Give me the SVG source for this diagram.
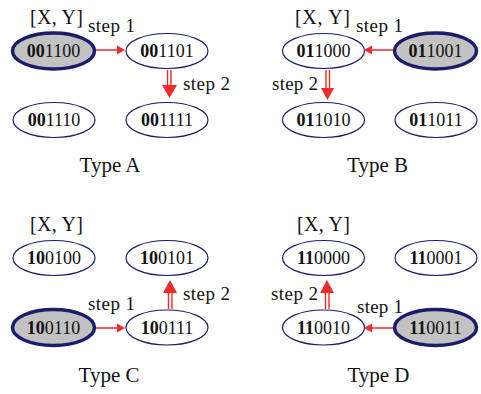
<svg xmlns="http://www.w3.org/2000/svg" width="481" height="394" viewBox="0 0 481 394">
  <style>
    .node { fill: #ffffff; stroke: #1c1c6b; stroke-width: 1.2; }
    .start { fill: #c2c2c2; stroke: #1c1c6b; stroke-width: 3.5; }
    .lbl { font-family: "Liberation Serif", "Times New Roman", serif; font-size: 18px; fill: #111; text-anchor: middle; }
    .lbl tspan.b { font-weight: bold; }
    .cap { font-family: "Liberation Serif", "Times New Roman", serif; font-size: 20px; fill: #111; }
    .step { font-family: "Liberation Serif", "Times New Roman", serif; font-size: 19px; fill: #111; }
    .type { font-family: "Liberation Serif", "Times New Roman", serif; font-size: 21px; fill: #111; text-anchor: middle; }
    .thin { stroke: #ee2a2a; stroke-width: 1.5; fill: none; }
    .dbl { stroke: #ee2a2a; stroke-width: 1.4; fill: none; }
    .head { fill: #ee2a2a; }
  </style>

  <!-- Type A -->
  <g id="a-001100"><ellipse class="start" cx="53.5" cy="51" rx="41" ry="18"/><text class="lbl" x="53.5" y="57"><tspan class="b">00</tspan>1100</text></g>
  <g id="a-001101"><ellipse class="node" cx="167" cy="51" rx="41" ry="17.5"/><text class="lbl" x="167" y="57"><tspan class="b">00</tspan>1101</text></g>
  <g id="a-001110"><ellipse class="node" cx="54" cy="120" rx="41" ry="17.5"/><text class="lbl" x="54" y="126"><tspan class="b">00</tspan>1110</text></g>
  <g id="a-001111"><ellipse class="node" cx="167" cy="120" rx="41" ry="17.5"/><text class="lbl" x="167" y="126"><tspan class="b">00</tspan>1111</text></g>

  <!-- Type B -->
  <g id="b-011000"><ellipse class="node" cx="323.5" cy="51" rx="41" ry="17.5"/><text class="lbl" x="323.5" y="57"><tspan class="b">01</tspan>1000</text></g>
  <g id="b-011001"><ellipse class="start" cx="435.5" cy="51" rx="41" ry="18"/><text class="lbl" x="435.5" y="57"><tspan class="b">01</tspan>1001</text></g>
  <g id="b-011010"><ellipse class="node" cx="323.5" cy="120" rx="41" ry="17.5"/><text class="lbl" x="323.5" y="126"><tspan class="b">01</tspan>1010</text></g>
  <g id="b-011011"><ellipse class="node" cx="436" cy="120" rx="41" ry="17.5"/><text class="lbl" x="436" y="126"><tspan class="b">01</tspan>1011</text></g>

  <!-- Type C -->
  <g id="c-100100"><ellipse class="node" cx="54" cy="258" rx="41" ry="17.5"/><text class="lbl" x="54" y="264"><tspan class="b">10</tspan>0100</text></g>
  <g id="c-100101"><ellipse class="node" cx="167" cy="258" rx="41" ry="17.5"/><text class="lbl" x="167" y="264"><tspan class="b">10</tspan>0101</text></g>
  <g id="c-100110"><ellipse class="start" cx="53.5" cy="327.5" rx="41" ry="18"/><text class="lbl" x="53.5" y="333.5"><tspan class="b">10</tspan>0110</text></g>
  <g id="c-100111"><ellipse class="node" cx="167" cy="327.5" rx="41" ry="17.5"/><text class="lbl" x="167" y="333.5"><tspan class="b">10</tspan>0111</text></g>

  <!-- Type D -->
  <g id="d-110000"><ellipse class="node" cx="323.5" cy="258" rx="41" ry="17.5"/><text class="lbl" x="323.5" y="264"><tspan class="b">11</tspan>0000</text></g>
  <g id="d-110001"><ellipse class="node" cx="436" cy="258" rx="41" ry="17.5"/><text class="lbl" x="436" y="264"><tspan class="b">11</tspan>0001</text></g>
  <g id="d-110010"><ellipse class="node" cx="323.5" cy="327.5" rx="41" ry="17.5"/><text class="lbl" x="323.5" y="333.5"><tspan class="b">11</tspan>0010</text></g>
  <g id="d-110011"><ellipse class="start" cx="435.5" cy="327.5" rx="41" ry="18"/><text class="lbl" x="435.5" y="333.5"><tspan class="b">11</tspan>0011</text></g>

  <!-- connectors: single-line step 1, double-line step 2 -->
  <g id="connectors">
    <!-- A -->
    <line class="thin" x1="96" y1="50" x2="117" y2="50"/>
    <polygon class="head" points="117,45.5 125,50 117,54.5"/>
    <line class="dbl" x1="167.5" y1="70" x2="167.5" y2="86"/>
    <line class="dbl" x1="171" y1="70" x2="171" y2="86"/>
    <polygon class="head" points="162,85 177,85 169.5,98"/>
    <!-- B -->
    <line class="thin" x1="393" y1="50" x2="372" y2="50"/>
    <polygon class="head" points="372,45.5 364,50 372,54.5"/>
    <line class="dbl" x1="326" y1="70" x2="326" y2="89"/>
    <line class="dbl" x1="329.5" y1="70" x2="329.5" y2="89"/>
    <polygon class="head" points="321,88 334,88 327.5,100"/>
    <!-- C -->
    <line class="thin" x1="96" y1="328" x2="117" y2="328"/>
    <polygon class="head" points="117,323.5 125,328 117,332.5"/>
    <line class="dbl" x1="168.5" y1="309" x2="168.5" y2="292"/>
    <line class="dbl" x1="172" y1="309" x2="172" y2="292"/>
    <polygon class="head" points="163,293 177,293 170,280"/>
    <!-- D -->
    <line class="thin" x1="393" y1="328" x2="372" y2="328"/>
    <polygon class="head" points="372,323.5 364,328 372,332.5"/>
    <line class="dbl" x1="325.5" y1="309" x2="325.5" y2="292"/>
    <line class="dbl" x1="329" y1="309" x2="329" y2="292"/>
    <polygon class="head" points="320,293 334,293 327,280"/>
  </g>

  <!-- annotations -->
  <g id="labels">
    <text class="cap" x="30" y="24" textLength="53">[X, Y]</text>
    <text class="cap" x="295" y="24" textLength="55">[X, Y]</text>
    <text class="cap" x="30" y="231" textLength="53">[X, Y]</text>
    <text class="cap" x="297" y="231" textLength="53">[X, Y]</text>

    <text class="step" x="88" y="32" textLength="47">step 1</text>
    <text class="step" x="183" y="90" textLength="47">step 2</text>
    <text class="step" x="356" y="32" textLength="47">step 1</text>
    <text class="step" x="272" y="90" textLength="46">step 2</text>
    <text class="step" x="88" y="310" textLength="47">step 1</text>
    <text class="step" x="183" y="300" textLength="47">step 2</text>
    <text class="step" x="357" y="313" textLength="46">step 1</text>
    <text class="step" x="271" y="300" textLength="47">step 2</text>

    <text class="type" x="110" y="172">Type A</text>
    <text class="type" x="377.5" y="172">Type B</text>
    <text class="type" x="109" y="382">Type C</text>
    <text class="type" x="378.5" y="382">Type D</text>
  </g>
</svg>
